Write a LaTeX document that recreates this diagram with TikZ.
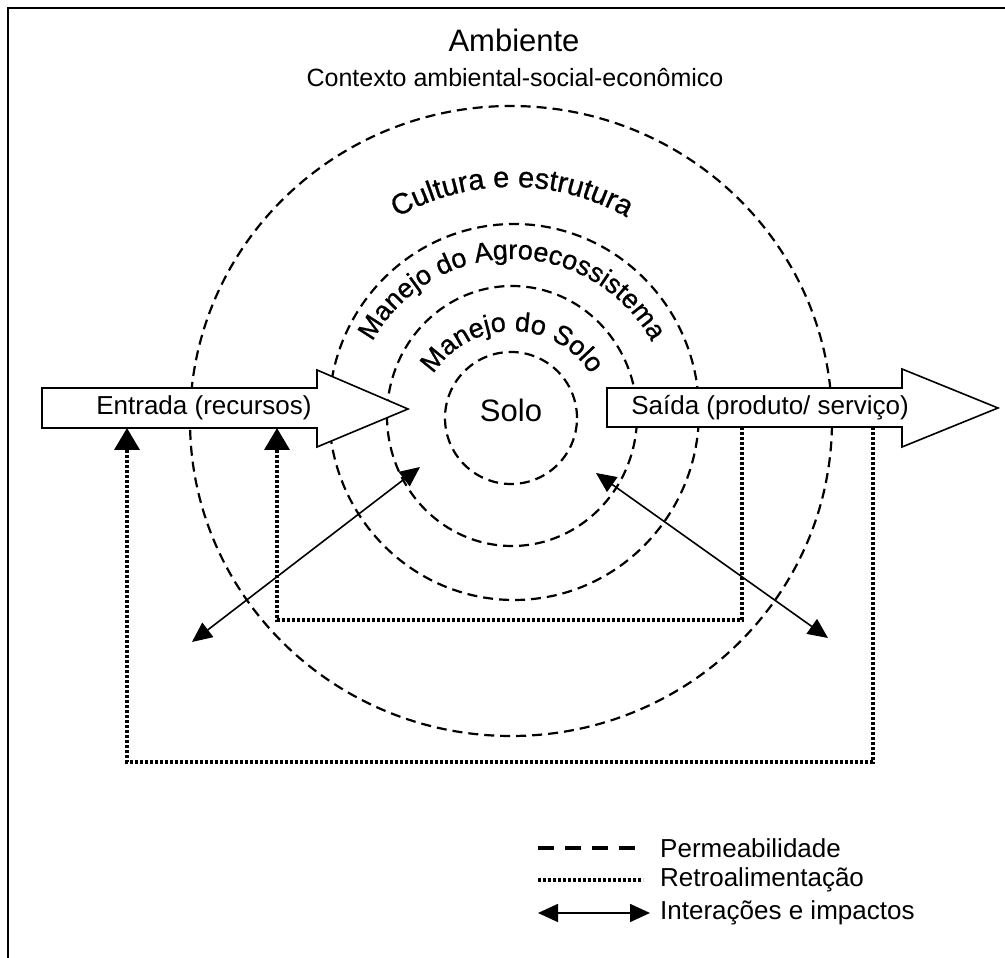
\documentclass[tikz,border=0pt]{standalone}
\usepackage{fontspec}
\setmainfont{Liberation Sans}
\newfontface\ringfont[FakeBold=0.8]{Liberation Sans}
\usetikzlibrary{arrows.meta,decorations.text,calc}

\newcommand{\labelsize}{\fontsize{26pt}{30pt}\selectfont}
\newcommand{\curvesize}{\ringfont\fontsize{27pt}{30pt}\selectfont}

\tikzset{
  perm/.style={dash pattern=on 10pt off 6pt, line width=2.2pt},
  dotline/.style={dash pattern=on 3.2pt off 1.8pt, line width=3.6pt},
  feedback/.style={dotline, -{Triangle[length=22pt,width=25pt]}},
  interact/.style={line width=1.6pt,
    {Triangle[length=20pt,width=18pt]}-{Triangle[length=20pt,width=18pt]}},
  blockarrow/.style={draw, fill=white, line width=1.6pt, line join=miter},
  lbl/.style={font=\labelsize, inner sep=0pt},
  curvetext/.style={decorate, decoration={text along path, text align=center,
    text={#1}}},
}

\begin{document}
\begin{tikzpicture}[x=1pt,y=1pt]
\useasboundingbox (0,0) rectangle (1005,958);

% frame (top and left edges)
\draw[line width=2pt] (8,0) -- (8,950) -- (1005,950);

% headings
\node[lbl, font=\fontsize{31pt}{34pt}\selectfont, anchor=base] (amb) at (514,906) {Ambiente};
\node[lbl, font=\fontsize{25pt}{28pt}\selectfont, anchor=base] (ctx) at (515,871) {Contexto ambiental-social-econômico};

% nested system boundaries
\coordinate (ctr) at (512,540);
\draw[perm] (511,537) ellipse [x radius=321, y radius=315];
\draw[perm] (514,546) ellipse [x radius=185, y radius=188];
\draw[perm] (512,542) ellipse [x radius=125, y radius=130];
\draw[perm] (511,540) circle [radius=66];

% curved ring labels
\path[curvetext={|\ringfont\fontsize{29pt}{30pt}\selectfont|Cultura e estrutura}]
  ($(ctr)+(180:231)$) arc[start angle=180, end angle=0, radius=231];
\path[curvetext={|\curvesize|Manejo do Agroecossistema}]
  ($(ctr)+(180:159)$) arc[start angle=180, end angle=0, radius=159];
\path[curvetext={|\curvesize|Manejo do Solo}]
  ($(ctr)+(0,-6)+(180:93)$) arc[start angle=180, end angle=0, radius=93];

\node[lbl, font=\fontsize{31pt}{34pt}\selectfont] (solo) at (511,548) {Solo};

% input and output block arrows
\draw[blockarrow] (42,570) -- (317,570) -- (317,588) -- (408,549)
  -- (317,511) -- (317,530) -- (42,530) -- cycle;
\draw[blockarrow] (607,570) -- (902,570) -- (902,589) -- (998,550)
  -- (902,511) -- (902,531) -- (607,531) -- cycle;
\node[lbl] (in) at (204,550) {Entrada (recursos)};
\node[lbl] (out) at (770,550) {Saída (produto/ serviço)};

% feedback loops
\coordinate (inA) at (277,530);
\coordinate (inB) at (127,530);
\coordinate (outA) at (742,531);
\coordinate (outB) at (873,531);
\draw[feedback] (outA) -- (742,338) -- (277,338) -- (inA);
\draw[feedback] (outB) -- (873,196) -- (127,196) -- (inB);

% interactions and impacts
\coordinate (ia1) at (192,316);
\coordinate (ia2) at (420,491);
\coordinate (ib1) at (596,485);
\coordinate (ib2) at (828,320);
\draw[interact] (ia1) -- (ia2);
\draw[interact] (ib1) -- (ib2);

% legend
\coordinate (l1a) at (538,110); \coordinate (l1b) at (638,110);
\coordinate (l2a) at (538,78);  \coordinate (l2b) at (643,78);
\coordinate (l3a) at (538,45);  \coordinate (l3b) at (650,45);
\draw[line width=3.8pt, dash pattern=on 16pt off 11pt] (l1a) -- (l1b);
\draw[dotline] (l2a) -- (l2b);
\draw[interact] (l3a) -- (l3b);
\node[lbl, anchor=west] (lg1) at (660,110) {Permeabilidade};
\node[lbl, anchor=west] (lg2) at (660,78) {Retroalimentação};
\node[lbl, anchor=west] (lg3) at (660,45) {Interações e impactos};
\end{tikzpicture}
\end{document}
